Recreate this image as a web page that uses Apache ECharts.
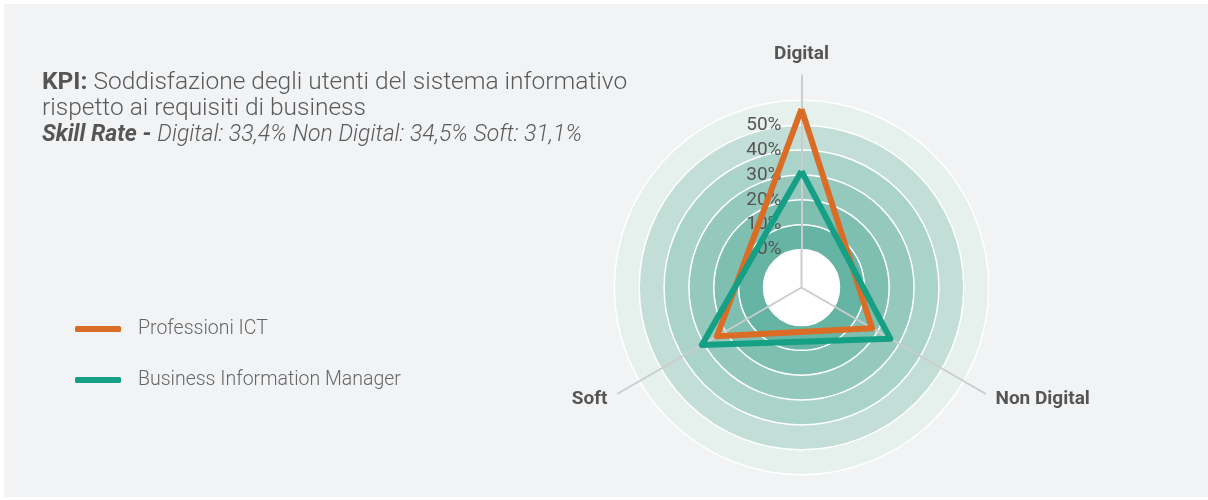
<!DOCTYPE html>
<html>
<head>
<meta charset="utf-8">
<script src="https://cdn.jsdelivr.net/npm/echarts@6/dist/echarts.min.js"></script>
<style>
  html, body { margin: 0; padding: 0; background: #ffffff; }
  #chart { position: absolute; left: 4px; top: 4px; width: 1204px; height: 493px; background: #f2f3f5; }
</style>
</head>
<body>
<div id="chart"></div>
<script>
// dati (ordine antiorario degli assi: Digital, Soft, Non Digital)
const indicatorNames = ['Digital', 'Soft', 'Non Digital']
const seriesNames = ['Professioni ICT', 'Business Information Manager']
const professioniICT = [56.5, 24, 17.5]
const businessInfoManager = [31.5, 31, 26]
const axisMax = 70
const labelMax = 50

const FONT = 'Roboto, "Open Sans", sans-serif'
const center = [797.5, 283.5]
const innerR = 38
const outerR = 212

const bandColors = ['#66b4a3', '#7fbfb1', '#95c9bd', '#aad3ca', '#c3ded7', '#e6f0ed', 'rgba(0,0,0,0)']
const ringColors = ['#ffffff', '#ffffff', '#ffffff', '#ffffff', '#ffffff', '#ffffff', '#ffffff', 'rgba(0,0,0,0)']

const chart = echarts.init(document.getElementById('chart'))

// cerchio bianco centrale + raggi interni
const spokes = [90, -30, 210].map(a => {
  const rad = a * Math.PI / 180
  return {
    type: 'line',
    shape: { x1: center[0], y1: center[1], x2: center[0] + innerR * Math.cos(rad), y2: center[1] - innerR * Math.sin(rad) },
    style: { stroke: '#cccccc', lineWidth: 2 },
    z: 1
  }
})

const option = {
  animation: false,
  title: {
    left: 33,
    top: 61,
    text: '{b|KPI:} {n|Soddisfazione degli utenti del sistema informativo}\n{n|rispetto ai requisiti di business}\n{bi|Skill Rate -} {i|Digital: 33,4% Non Digital: 34,5% Soft: 31,1%}',
    textStyle: {
      fontFamily: FONT,
      fontSize: 24.5,
      fontWeight: 300,
      color: '#5a5a5a',
      lineHeight: 26,
      rich: {
        b: { fontFamily: FONT, fontSize: 24.5, fontWeight: 'bold', color: '#555555', lineHeight: 26 },
        n: { fontFamily: FONT, fontSize: 24.5, fontWeight: 300, color: '#5a5a5a', lineHeight: 26 },
        bi: { fontFamily: FONT, fontSize: 23, fontWeight: 'bold', fontStyle: 'italic', color: '#555555', lineHeight: 26 },
        i: { fontFamily: FONT, fontSize: 23, fontWeight: 300, fontStyle: 'italic', color: '#5a5a5a', lineHeight: 26 }
      }
    }
  },
  legend: {
    orient: 'vertical',
    left: 66,
    top: 310,
    itemWidth: 46,
    itemHeight: 6,
    itemGap: 31,
    icon: 'roundRect',
    data: seriesNames,
    textStyle: {
      fontFamily: FONT,
      fontSize: 19.5,
      fontWeight: 300,
      color: '#666666',
      padding: [0, 0, 0, 12]
    }
  },
  graphic: [
    {
      type: 'circle',
      shape: { cx: center[0], cy: center[1], r: innerR },
      style: { fill: '#ffffff' },
      z: 0
    },
    ...spokes
  ],
  radar: {
    center: center,
    radius: [innerR, outerR],
    startAngle: 90,
    shape: 'circle',
    splitNumber: 7,
    nameGap: 12,
    axisName: {
      fontFamily: FONT,
      fontSize: 19,
      fontWeight: 'bold',
      color: '#555555'
    },
    indicator: indicatorNames.map((name, i) => {
      const ind = { name: name, min: 0, max: axisMax }
      if (i === 0) {
        ind.axisLabel = {
          show: true,
          fontFamily: FONT,
          fontSize: 19,
          color: '#555555',
          margin: 20,
          formatter: v => (v <= labelMax ? v + '%' : '')
        }
      }
      return ind
    }),
    axisLine: { lineStyle: { color: '#cccccc', width: 2 } },
    axisLabel: { show: false },
    axisTick: { show: false },
    splitLine: { lineStyle: { color: ringColors, width: 1.5 } },
    splitArea: { show: true, areaStyle: { color: bandColors } }
  },
  series: [
    {
      type: 'radar',
      symbol: 'none',
      data: [
        {
          name: seriesNames[0],
          value: professioniICT,
          lineStyle: { color: '#da6c26', width: 6 },
          itemStyle: { color: '#da6c26' }
        },
        {
          name: seriesNames[1],
          value: businessInfoManager,
          lineStyle: { color: '#159f85', width: 6 },
          itemStyle: { color: '#159f85' }
        }
      ]
    }
  ]
}

chart.setOption(option)
</script>
</body>
</html>
